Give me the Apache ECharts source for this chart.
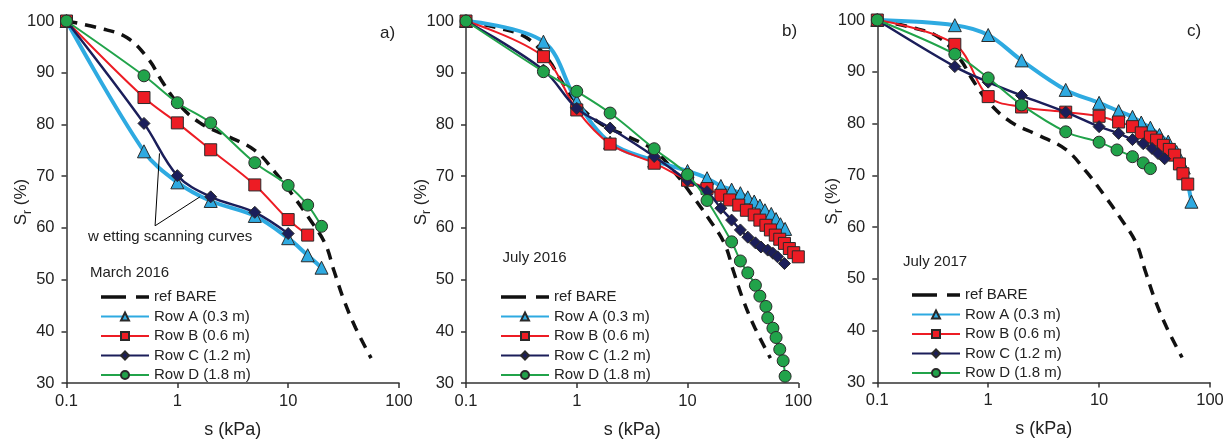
<!DOCTYPE html>
<html>
<head>
<meta charset="utf-8">
<script src="https://cdn.jsdelivr.net/npm/echarts@6/dist/echarts.min.js"></script>
<style>
html,body{margin:0;padding:0;background:#fff;}
#chart{width:1232px;height:444px;}
</style>
</head>
<body>
<div id="chart"></div>
<script>
// ---------- data ----------
const xRange = [0.1, 100];
const yRange = [30, 100];
const yStep = 10;
const panelLabels = ['a)', 'b)', 'c)'];
const periodLabels = ['March 2016', 'July 2016', 'July 2017'];
const seriesNames = ['ref BARE', 'Row A (0.3 m)', 'Row B (0.6 m)', 'Row C (1.2 m)', 'Row D (1.8 m)'];
const annotationText = 'w etting scanning curves';

const refBare = [[0.1,100],[0.2,98.6],[0.35,96.8],[0.55,92.6],[0.72,88.5],[1,84.2],[1.6,80.3],[2.8,77.8],[5,75],[7.6,70.8],[11,66.3],[15.5,61.8],[21.5,57],[26,51.6],[32,45.9],[40.5,40.7],[56,34.8]];

// panel a) March 2016
const rowA_a = [[0.1,100],[0.5,74.8],[1,68.8],[2,65.2],[5,62.3],[10,58],[15,54.7],[20,52.3]];
const rowB_a = [[0.1,100],[0.5,85.2],[1,80.3],[2,75.1],[5,68.3],[10,61.6],[15,58.6]];
const rowC_a = [[0.1,100],[0.5,80.2],[1,70.1],[2,66],[5,63],[10,58.9]];
const rowD_a = [[0.1,100],[0.5,89.4],[1,84.2],[2,80.3],[5,72.6],[10,68.2],[15,64.4],[20,60.3]];
const arrows_a = [[[0.63,60.4],[0.69,74.4]],[[0.63,60.4],[1.6,66]]];

// panel b) July 2016
const rowA_b = [[0.1,100],[0.5,96],[1,84.5],[2,76.5],[5,73],[10,71],[15,69.6],[20,68.1],[25,67.4],[30,66.7],[35,65.9],[40,65.1],[45,64.3],[50,63.4],[57,62.7],[63,61.7],[69,60.7],[76,59.8]];
const rowB_b = [[0.1,100],[0.5,93.1],[1,82.8],[2,76.2],[5,72.5],[10,69.2],[15,67.6],[20,66.3],[24,65.4],[29,64.4],[34,63.4],[40,62.5],[45,61.5],[51,60.5],[56,59.6],[62,58.6],[68,57.8],[75,57],[83,56],[91,55.2],[100,54.4]];
const rowC_b = [[0.1,100],[0.5,90.5],[1,83.1],[2,79.3],[5,73.8],[10,69.2],[15,67],[20,63.8],[25,61.5],[30,59.6],[35,58.2],[41,57.1],[46,56.3],[53,55.7],[59,55.1],[65,54.4],[75,53.1]];
const rowD_b = [[0.1,100],[0.5,90.2],[1,86.4],[2,82.2],[5,75.3],[10,70.3],[15,65.3],[25,57.3],[30,53.6],[35,51.3],[41,48.9],[45,46.8],[51,44.8],[53,42.6],[59,40.6],[63,38.8],[68,36.5],[73,34.3],[76,31.3]];

// panel c) July 2017
const rowA_c = [[0.1,100],[0.5,99],[1,97.1],[2,92.2],[5,86.5],[10,84],[15,82.4],[20,81.3],[24,80.2],[29,79.2],[35,77.8],[42,76.5],[50,74.5],[58,71.5],[68,64.9]];
const rowB_c = [[0.1,100],[0.5,95.3],[1,85.2],[2,83.2],[5,82.2],[10,81.4],[15,80.3],[20,79.4],[24,78.2],[29,77.4],[33,76.8],[38,75.8],[43,75],[48,73.9],[53,72.2],[57,70.3],[63,68.3]];
const rowC_c = [[0.1,100],[0.5,91],[1,88],[2,85.4],[5,82.2],[10,79.4],[15,78.1],[20,76.9],[25,76.1],[30,75.2],[34,74.2],[39,73.2]];
const rowD_c = [[0.1,100],[0.5,93.4],[1,88.8],[2,83.6],[5,78.4],[10,76.4],[14.5,74.9],[20,73.6],[25,72.4],[29,71.3]];

const panels = [
  {A: rowA_a, B: rowB_a, C: rowC_a, D: rowD_a},
  {A: rowA_b, B: rowB_b, C: rowC_b, D: rowD_b},
  {A: rowA_c, B: rowB_c, C: rowC_c, D: rowD_c}
];

// ---------- layout / style ----------
const FONT = "'Liberation Sans', Arial, sans-serif";
const grids = [
  {left: 66.5, top: 21, width: 332.5, height: 362.3},
  {left: 466, top: 21, width: 332.3, height: 362.3},
  {left: 877.3, top: 20, width: 332.7, height: 362.4}
];
const panelLabelPos = [[380, 24.5], [782, 23], [1187, 22.5]];
const periodPos = [[90, 265.5], [502.5, 250.5], [903, 254.5]];
const legendPos = [[100, 289.5], [500, 289.5], [911, 287.5]];
const dashIcon = 'path://M0,0 h0.05 v0.05 h-0.05 Z M0,3.2 H25 V6.8 H0 Z M35,3.2 H48 V6.8 H35 Z M48,10 h-0.05 v-0.05 h0.05 Z';

const colA = '#2eaae1', colB = '#ed1c24', colC = '#1b1e5a', colD = '#21a34a';
const edge = '#2a2a2a';

const axisCommon = {
  axisLine: {show: true, lineStyle: {color: '#333', width: 1.5}},
  axisTick: {show: true, inside: false, length: 5, lineStyle: {color: '#333', width: 1.5}},
  splitLine: {show: false},
  minorTick: {show: false}
};

const xAxes = [], yAxes = [], series = [], titles = [], legends = [];
grids.forEach((g, i) => {
  xAxes.push(Object.assign({
    gridIndex: i, type: 'log', logBase: 10, min: xRange[0], max: xRange[1],
    name: 's (kPa)', nameLocation: 'middle', nameGap: 38, nameMoveOverlap: false,
    nameTextStyle: {fontFamily: FONT, fontSize: 18, color: '#222'},
    axisLabel: {fontFamily: FONT, fontSize: 16.5, color: '#222', margin: 10,
      formatter: v => String(+v.toPrecision(3))}
  }, axisCommon));
  yAxes.push(Object.assign({
    gridIndex: i, type: 'value', min: yRange[0], max: yRange[1], interval: yStep,
    name: '{n|S}{s|r}{n| (%)}', nameLocation: 'middle', nameGap: 33, nameMoveOverlap: false,
    nameTextStyle: {fontFamily: FONT, fontSize: 17, color: '#222',
      rich: {
        n: {fontFamily: FONT, fontSize: 17, color: '#222', lineHeight: 24, verticalAlign: 'middle'},
        s: {fontFamily: FONT, fontSize: 12, color: '#222', lineHeight: 13, verticalAlign: 'bottom'}
      }},
    axisLabel: {fontFamily: FONT, fontSize: 16.5, color: '#222', margin: 12}
  }, axisCommon));

  const p = panels[i];
  series.push({
    name: seriesNames[0], type: 'line', xAxisIndex: i, yAxisIndex: i,
    data: refBare, smooth: 0.4, showSymbol: false, symbol: 'none', z: 1,
    lineStyle: {color: '#111', width: 3.5, type: [11, 8]}, itemStyle: {color: '#111'}
  });
  const mk = (name, data, color, width, symbol, size, z) => ({
    name, type: 'line', xAxisIndex: i, yAxisIndex: i, data, smooth: 0.35,
    symbol, symbolSize: size, showAllSymbol: true, z,
    lineStyle: {color, width},
    itemStyle: {color, borderColor: edge, borderWidth: 1}
  });
  const sA = mk(seriesNames[1], p.A, colA, 4, 'triangle', 13, 2);
  if (i === 0) {
    sA.markLine = {
      silent: true, symbol: ['none', 'arrow'], symbolSize: [0, 9],
      label: {show: false},
      lineStyle: {color: '#000', width: 1, type: 'solid'},
      data: arrows_a.map(a => [{coord: a[0]}, {coord: a[1]}])
    };
  }
  series.push(sA);
  series.push(mk(seriesNames[2], p.B, colB, 2, 'rect', 12, 3));
  series.push(mk(seriesNames[3], p.C, colC, 2.5, 'diamond', 12, 4));
  series.push(mk(seriesNames[4], p.D, colD, 2, 'circle', 12, 5));

  titles.push({text: panelLabels[i], left: panelLabelPos[i][0], top: panelLabelPos[i][1], padding: 0,
    textStyle: {fontFamily: FONT, fontSize: 17, fontWeight: 'normal', color: '#222'}});
  titles.push({text: periodLabels[i], left: periodPos[i][0], top: periodPos[i][1], padding: 0,
    textStyle: {fontFamily: FONT, fontSize: 15, fontWeight: 'normal', color: '#222'}});

  legends.push({
    orient: 'vertical', left: legendPos[i][0], top: legendPos[i][1],
    itemWidth: 48, itemHeight: 10, itemGap: 4.5, padding: 0,
    selectedMode: false,
    textStyle: {fontFamily: FONT, fontSize: 15, color: '#222', lineHeight: 15},
    data: [
      {name: seriesNames[0], icon: dashIcon, itemStyle: {color: '#111', borderWidth: 0}},
      seriesNames[1], seriesNames[2], seriesNames[3], seriesNames[4]
    ]
  });
});
titles.push({text: annotationText, left: 88, top: 229, padding: 0,
  textStyle: {fontFamily: FONT, fontSize: 15, fontWeight: 'normal', color: '#222'}});

const chart = echarts.init(document.getElementById('chart'), null, {renderer: 'canvas'});
chart.setOption({
  backgroundColor: '#ffffff',
  animation: false,
  title: titles,
  legend: legends,
  grid: grids,
  xAxis: xAxes,
  yAxis: yAxes,
  series: series
});
</script>
</body>
</html>
